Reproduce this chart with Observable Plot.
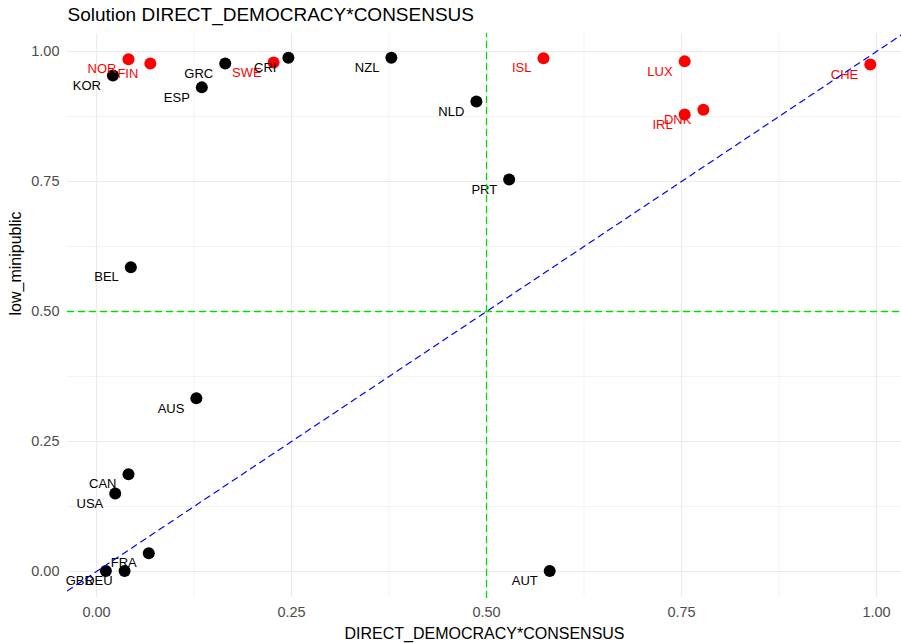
<!DOCTYPE html>
<html>
<head>
<meta charset="utf-8">
<script src="https://cdn.jsdelivr.net/npm/d3@7"></script>
<script src="https://cdn.jsdelivr.net/npm/@observablehq/plot@0.6"></script>
<style>
  html, body { margin: 0; padding: 0; background: #ffffff; }
  #chart svg { display: block; font-family: "Liberation Sans", Arial, sans-serif; }
</style>
</head>
<body>
<div id="chart"></div>
<script>
// ---- data ----
const countries = ["NOR","FIN","SWE","ISL","LUX","IRL","DNK","CHE",
                   "KOR","GRC","ESP","CRI","NZL","NLD","PRT","BEL","AUS","CAN","USA","FRA","DEU","GBR","AUT"];
const directDemocracyConsensus = [0.041,0.069,0.227,0.573,0.754,0.754,0.778,0.992,
                   0.021,0.165,0.135,0.246,0.378,0.487,0.529,0.044,0.128,0.041,0.024,0.067,0.036,0.012,0.581];
const lowMinipublic = [0.985,0.977,0.979,0.987,0.981,0.879,0.888,0.975,
                   0.954,0.977,0.931,0.988,0.988,0.904,0.754,0.585,0.333,0.187,0.150,0.035,0.001,0.001,0.001];
const inSolution = [true,true,true,true,true,true,true,true,
                   false,false,false,false,false,false,false,false,false,false,false,false,false,false,false];
const majorTicks = [0, 0.25, 0.5, 0.75, 1];
const minorTicks = [0.125, 0.375, 0.625, 0.875];
const threshold = 0.5;
const xDomain = [-0.0372, 1.032];
const yDomain = [-0.05, 1.0346];
const titleText = "Solution DIRECT_DEMOCRACY*CONSENSUS";
const xTitle = "DIRECT_DEMOCRACY*CONSENSUS";
const yTitle = "low_minipublic";

const data = countries.map((c, i) => ({
  country: c, x: directDemocracyConsensus[i], y: lowMinipublic[i], sol: inSolution[i]
}));

const fmt = d3.format(".2f");
const dash = "6,5";

const chart = Plot.plot({
  width: 901,
  height: 643,
  marginLeft: 67,
  marginRight: 0,
  marginTop: 33,
  marginBottom: 46,
  x: { domain: xDomain },
  y: { domain: yDomain },
  style: { fontFamily: "Liberation Sans, Arial, sans-serif", background: "#ffffff" },
  marks: [
    // minor grid
    Plot.ruleX(minorTicks, { stroke: "#ebebeb", strokeWidth: 0.6 }),
    Plot.ruleY(minorTicks, { stroke: "#ebebeb", strokeWidth: 0.6 }),
    // major grid
    Plot.ruleX(majorTicks, { stroke: "#ebebeb", strokeWidth: 1.2 }),
    Plot.ruleY(majorTicks, { stroke: "#ebebeb", strokeWidth: 1.2 }),
    // axes
    Plot.axisX(majorTicks, { tickSize: 0, tickPadding: 9, tickFormat: fmt, fontSize: 14.5, color: "#4d4d4d", label: null }),
    Plot.axisY(majorTicks, { tickSize: 0, tickPadding: 8, tickFormat: fmt, fontSize: 14.5, color: "#4d4d4d", label: null }),
    // points
    Plot.dot(data, { x: "x", y: "y", r: 6, fill: d => d.sol ? "#ff0000" : "#000000", stroke: null }),
    // labels
    Plot.text(data, { x: "x", y: "y", text: "country", textAnchor: "end", dx: -12, dy: 10,
      fontSize: 13, fill: d => d.sol ? "#ff0000" : "#000000" }),
    // reference lines
    Plot.line([[threshold, yDomain[0]], [threshold, yDomain[1]]], { x: d => d[0], y: d => d[1], stroke: "#00e000", strokeWidth: 1.3, strokeDasharray: dash }),
    Plot.line([[xDomain[0], threshold], [xDomain[1], threshold]], { x: d => d[0], y: d => d[1], stroke: "#00e000", strokeWidth: 1.3, strokeDasharray: dash }),
    Plot.line([[xDomain[0], xDomain[0]], [xDomain[1], xDomain[1]]], { x: d => d[0], y: d => d[1], stroke: "#0000ff", strokeWidth: 1.2, strokeDasharray: dash, clip: true }),
    // titles
    Plot.text([titleText], { frameAnchor: "top-left", dy: -19, textAnchor: "start", lineAnchor: "middle", fontSize: 19, fill: "#000000" }),
    Plot.text([xTitle], { frameAnchor: "bottom", dy: 36, lineAnchor: "middle", fontSize: 16, fill: "#000000" }),
    Plot.text([yTitle], { frameAnchor: "left", dx: -52, rotate: -90, lineAnchor: "middle", fontSize: 16, fill: "#000000" })
  ]
});

document.getElementById("chart").appendChild(chart);
</script>
</body>
</html>
